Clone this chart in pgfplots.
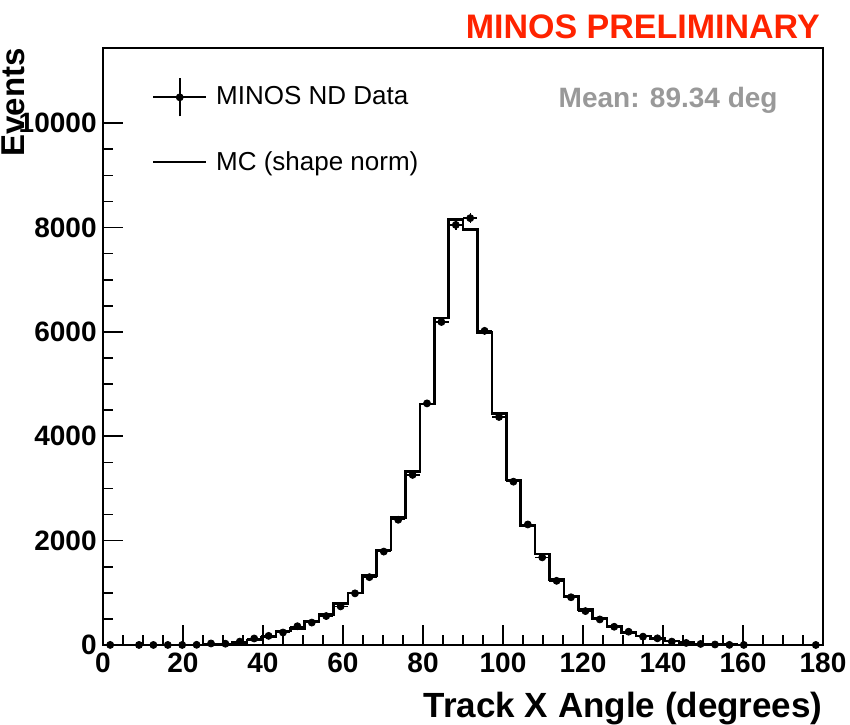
\documentclass[border=0pt]{standalone}
\usepackage{fontspec}
\setmainfont{Liberation Sans}
\usepackage{pgfplots}
\pgfplotsset{compat=1.18}
\usepackage{pgfplotstable}
\definecolor{minosred}{RGB}{255,35,0}
\definecolor{meangray}{RGB}{153,153,153}

% MC histogram: left bin edge, content (last row closes the histogram at 180)
\pgfplotstableread{
edge mc
0 0
3.6 0
7.2 0
10.8 0
14.4 0
18 0
21.6 3
25.2 10
28.8 20
32.4 45
36 95
39.6 150
43.2 265
46.8 320
50.4 445
54 590
57.6 800
61.2 1000
64.8 1330
68.4 1820
72 2440
75.6 3320
79.2 4615
82.8 6270
86.4 8150
90 7960
93.6 5990
97.2 4440
100.8 3165
104.4 2290
108 1745
111.6 1260
115.2 925
118.8 685
122.4 510
126 350
129.6 245
133.2 170
136.8 125
140.4 80
144 45
147.6 22
151.2 10
154.8 5
158.4 2
162 0
165.6 0
169.2 0
172.8 0
176.4 0
180 0
}\mctable

% Data: bin centre, events, x half-width, y error
\pgfplotstableread{
x y ex ey
1.8 2 1.8 1.4
9.0 1 1.8 1
12.6 1 1.8 1
16.2 1 1.8 1
19.8 1 1.8 1
23.4 4 1.8 2
27.0 30 1.8 5.5
30.6 25 1.8 5
34.2 65 1.8 8
37.8 125 1.8 11
41.4 175 1.8 13
45.0 240 1.8 15.5
48.6 360 1.8 19
52.2 430 1.8 21
55.8 555 1.8 23.6
59.4 740 1.8 27
63.0 990 1.8 31
66.6 1300 1.8 36
70.2 1790 1.8 42
73.8 2400 1.8 49
77.4 3260 1.8 57
81.0 4630 1.8 68
84.6 6190 1.8 79
88.2 8050 1.8 90
91.8 8180 1.8 90
95.4 6020 1.8 78
99.0 4370 1.8 66
102.6 3130 1.8 56
106.2 2310 1.8 48
109.8 1680 1.8 41
113.4 1230 1.8 35
117.0 915 1.8 30
120.6 650 1.8 25.5
124.2 490 1.8 22
127.8 350 1.8 18.7
131.4 255 1.8 16
135.0 160 1.8 12.6
138.6 128 1.8 11.3
142.2 65 1.8 8
145.8 40 1.8 6.3
149.4 20 1.8 4.5
153.0 10 1.8 3.2
156.6 3 1.8 1.7
160.2 2 1.8 1.4
178.2 1 1.8 1
}\datatable

\begin{document}
\begin{tikzpicture}
\begin{axis}[
  scale only axis, width=360pt, height=298.5pt,
  xmin=0, xmax=180, ymin=0, ymax=11440,
  clip=false,
  axis line style={line width=1pt},
  tick align=inside, xtick pos=bottom, ytick pos=left,
  every tick/.style={black, line width=0.8pt},
  xtick={0,20,...,180}, minor x tick num=3,
  ytick={0,2000,4000,6000,8000,10000},
  yticklabels={0,2000,4000,6000,8000,10000},
  xticklabels={0,20,40,60,80,100,120,140,160,180},
  minor y tick num=3,
  major tick length=10pt, minor tick length=5pt,
  scaled ticks=false,
  /pgf/number format/assume math mode=true,
  ticklabel style={font=\bfseries\fontsize{14}{14}\selectfont, inner sep=0pt},
  xticklabel style={yshift=-4pt},
  yticklabel style={xshift=-3pt},
  xlabel={Track X Angle (degrees)},
  ylabel={Events},
  xlabel style={at={(axis description cs:1,0)}, anchor=base east, inner sep=0pt, yshift=-36pt, font=\bfseries\fontsize{17.5}{17.5}\selectfont},
  ylabel style={at={(axis description cs:-0.1097,1)}, anchor=base east, inner sep=0pt, font=\bfseries\fontsize{16.5}{16.5}\selectfont},
  legend style={at={(axis description cs:0.068,0.9514)}, anchor=north west, draw=none, fill=none, inner sep=0pt,
    font=\fontsize{13}{13}\selectfont, row sep=13pt,
    /tikz/every odd column/.append style={column sep=2.5pt}},
  legend cell align=left,
]
\addlegendimage{legend image code/.code={
  \draw[line width=0.9pt] (0pt,0pt) -- (26.5pt,0pt);
  \draw[line width=0.9pt] (13.25pt,-9.5pt) -- (13.25pt,9.5pt);
  \fill (13.25pt,0pt) circle (1.75pt);}}
\addlegendentry{MINOS ND Data}
\addlegendimage{legend image code/.code={
  \draw[line width=0.9pt] (0pt,0pt) -- (26.5pt,0pt);
  \path[draw=none, fill=none] (0pt,-9.5pt) rectangle (26.5pt,9.5pt);}}
\addlegendentry{MC (shape norm)}

\addplot[const plot, black, line width=1.3pt, forget plot] table[x=edge, y=mc] {\mctable};
\addplot[only marks, mark=*, mark size=1.75pt, black, forget plot,
  error bars/.cd, x dir=both, x explicit, y dir=both, y explicit,
  error mark=none, error bar style={line width=0.7pt, black}]
  table[x=x, y=y, x error=ex, y error=ey] {\datatable};

\node[anchor=base east, inner sep=0pt, text=minosred, font=\bfseries\fontsize{17}{17}\selectfont]
  at (axis description cs:0.996,1) [yshift=5pt] {MINOS PRELIMINARY};
\node[anchor=base east, inner sep=0pt, text=meangray, font=\bfseries\fontsize{14}{14}\selectfont]
  at (axis description cs:0.9375,0.8995) {Mean: 89.34 deg};
\end{axis}
\pgfresetboundingbox
\path[use as bounding box] (-51.5pt,-39.5pt) rectangle (373.5pt,322.5pt);
\end{tikzpicture}
\end{document}
